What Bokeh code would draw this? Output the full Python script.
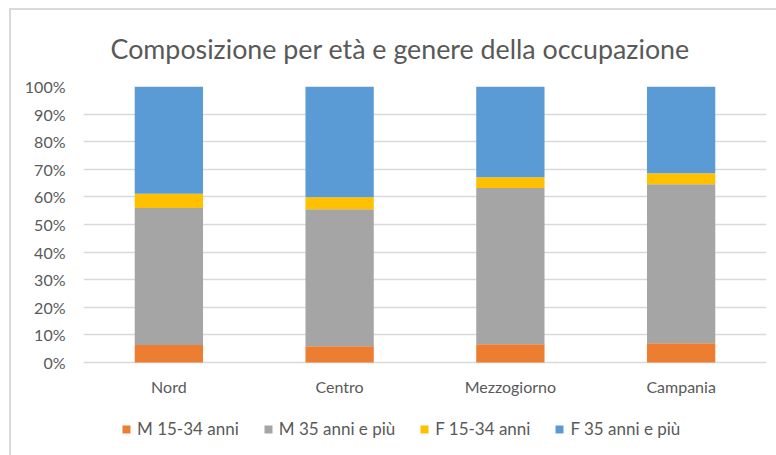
from bokeh.plotting import figure
from bokeh.models import (FactorRange, Range1d, FixedTicker, NumeralTickFormatter,
                          Legend, LegendItem, ColumnDataSource, InlineStyleSheet)
from bokeh.embed import file_html
from bokeh.resources import INLINE

categories = ["Nord", "Centro", "Mezzogiorno", "Campania"]
series_names = ["M 15-34 anni", "M 35 anni e più", "F 15-34 anni", "F 35 anni e più"]
m_15_34 = [0.063, 0.059, 0.066, 0.070]
m_35_plus = [0.497, 0.496, 0.566, 0.576]
f_15_34 = [0.051, 0.044, 0.039, 0.040]
f_35_plus = [0.389, 0.401, 0.329, 0.314]
y_ticks = [0.0, 0.1, 0.2, 0.3, 0.4, 0.5, 0.6, 0.7, 0.8, 0.9, 1.0]
colors = ["#ED7D31", "#A5A5A5", "#FFC000", "#5B9BD5"]

FONT = "Lato"
TXT = "#595959"

# layout (pixels)
PLOT_H = 276          # height of the 0-100% region
EXTRA = 83            # space kept inside the frame below 0% for labels/legend

keys = ["m1", "m2", "f1", "f2"]
source = ColumnDataSource(dict(cat=categories, m1=m_15_34, m2=m_35_plus, f1=f_15_34, f2=f_35_plus))

css = InlineStyleSheet(css=""":host {
  background:
    linear-gradient(#d9d9d9, #d9d9d9) 9px 8px / 2px 100% no-repeat,
    linear-gradient(#d9d9d9, #d9d9d9) 9px 8px / 100% 2px no-repeat,
    #ffffff;
}""")

p = figure(frame_width=683, frame_height=PLOT_H + EXTRA,
           x_range=FactorRange(*categories), y_range=Range1d(-EXTRA / PLOT_H, 1),
           output_backend="svg", toolbar_location=None,
           min_border_left=83, min_border_right=10, min_border_top=86, min_border_bottom=10,
           border_fill_color=None, background_fill_color="white", outline_line_color=None)
p.stylesheets = [css]

renderers = p.vbar_stack(keys, x="cat", width=0.4, color=colors, line_color=None, source=source)

p.title.text = "Composizione per età e genere della occupazione"
p.title.align = "left"
p.title.offset = 27
p.title.standoff = 44
p.title.text_font = FONT
p.title.text_font_size = "26.8px"
p.title.text_font_style = "normal"
p.title.text_color = TXT

p.yaxis.ticker = FixedTicker(ticks=y_ticks)
p.yaxis.formatter = NumeralTickFormatter(format="0%")
for ax in (p.xaxis[0], p.yaxis[0]):
    ax.axis_line_color = None
    ax.major_tick_line_color = None
    ax.minor_tick_line_color = None
    ax.major_tick_out = 0
    ax.major_tick_in = 0
    ax.major_label_text_font = FONT
    ax.major_label_text_font_size = "16px"
    ax.major_label_text_color = TXT
p.yaxis.major_label_standoff = 18
p.xaxis.major_label_standoff = 14 - EXTRA

p.xgrid.grid_line_color = None
p.ygrid.grid_line_color = "#d9d9d9"
p.ygrid.grid_line_width = 1.3

items = [LegendItem(label=n, renderers=[r]) for n, r in zip(series_names, renderers)]
legend = Legend(items=items, orientation="horizontal", location=(38, 6),
                glyph_width=10, glyph_height=10, label_standoff=6, spacing=24,
                label_height=20, padding=0, margin=0,
                border_line_color=None, background_fill_alpha=0,
                label_text_font=FONT, label_text_font_size="17px", label_text_color=TXT)
p.add_layout(legend, "center")

open("out.html", "w").write(file_html(p, INLINE))
